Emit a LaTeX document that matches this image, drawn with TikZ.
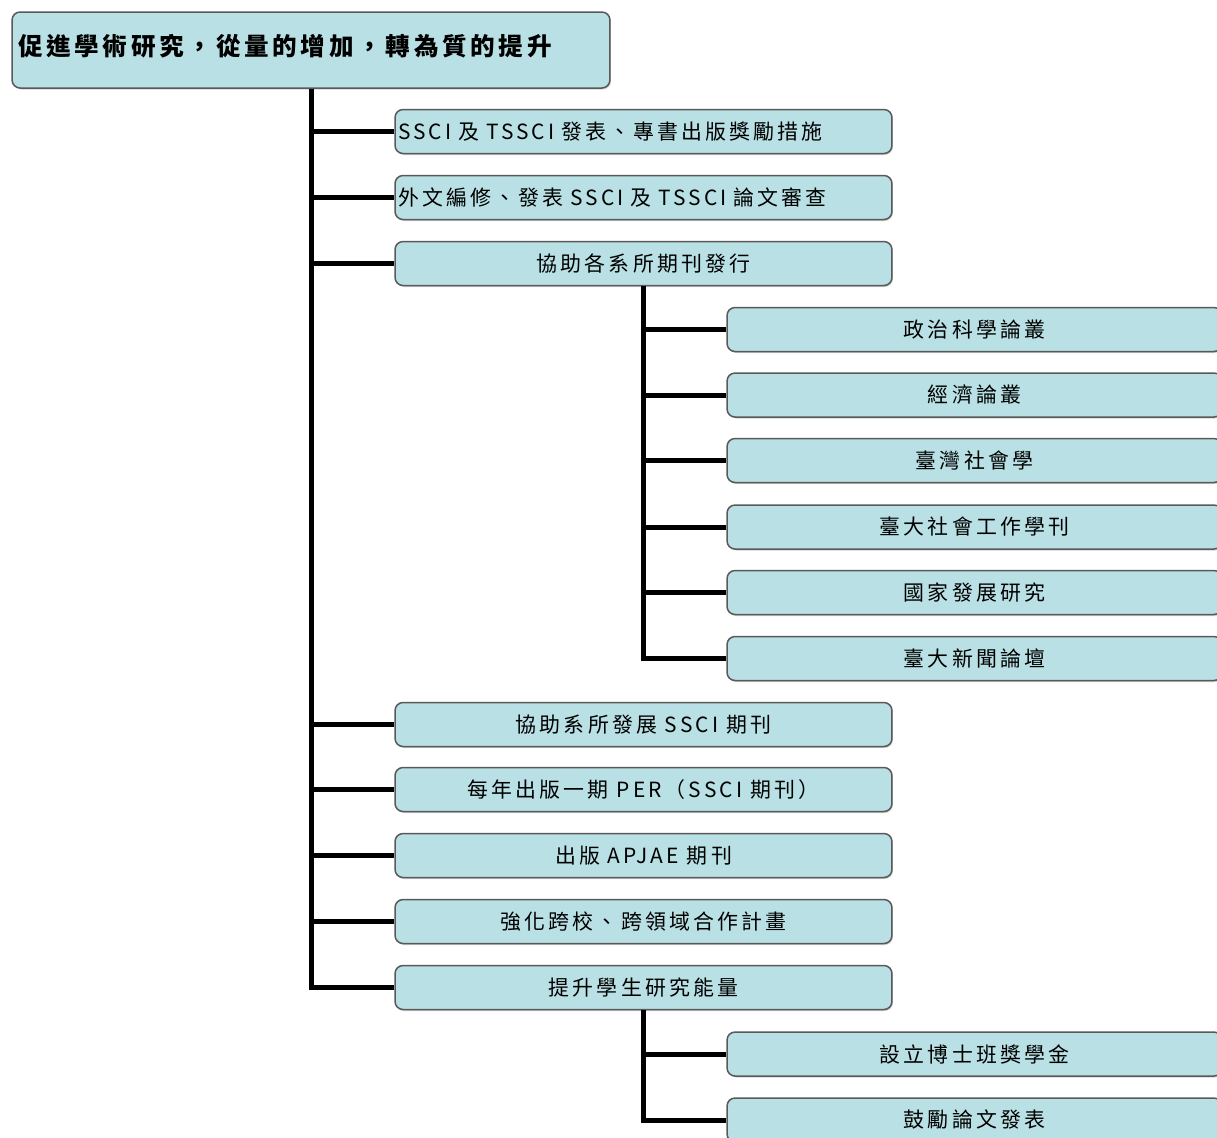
\documentclass[tikz,border=0pt]{standalone}
\usepackage{fontspec}
\setmainfont{Noto Sans CJK TC}[LetterSpace=15]
\usetikzlibrary{shadows}
\definecolor{r185g224b228}{RGB}{185,224,228}
\tikzset{
  box/.style={draw=black!65, line width=0.03cm, fill=r185g224b228, rounded corners=0.16cm,
    drop shadow={shadow xshift=0.02cm, shadow yshift=-0.03cm, fill=black!35},
    inner sep=0pt, font=\fontsize{11.9}{13}\selectfont},
  rootbox/.style={box, minimum width=11.96cm, minimum height=1.52cm, inner xsep=0.12cm,
    text width=11.72cm, align=left, text height=0.43cm, text depth=0.22cm,
    font=\fontsize{14}{16}\selectfont\bfseries},
  itembox/.style={box, minimum width=9.94cm, minimum height=0.88cm},
  leftbox/.style={itembox, inner xsep=0.06cm, text width=9.82cm, align=left},
  subbox/.style={box, minimum width=9.9cm, minimum height=0.88cm},
  link/.style={line width=0.1cm, black}
}
\begin{document}
\begin{tikzpicture}[x=0.02cm, y=-0.02cm]
\useasboundingbox (0,0) rectangle (1217,1137);
\clip (0,0) rectangle (1217,1137);

% Drawing top box
\node [rootbox] (root) at (311,50) {促進學術研究，從量的增加，轉為質的提升};

% Drawing first level
\node [leftbox] (award) at (643.5,131.5) {SSCI 及 TSSCI 發表、專書出版獎勵措施};
\node [leftbox] (review) at (643.5,197.5) {外文編修、發表 SSCI 及 TSSCI 論文審查};
\node [itembox] (journals) at (643.5,263.5) {協助各系所期刊發行};
\node [itembox] (devssci) at (643.5,724.5) {協助系所發展 SSCI 期刊};
\node [itembox] (per) at (643.5,789.5) {每年出版一期 PER（SSCI 期刊）};
\node [itembox] (apjae) at (643.5,855.5) {出版 APJAE 期刊};
\node [itembox] (cross) at (643.5,921.5) {強化跨校、跨領域合作計畫};
\node [itembox] (student) at (643.5,987.5) {提升學生研究能量};

% Drawing journals
\node [subbox] (polsci) at (974.5,329.5) {政治科學論叢};
\node [subbox] (econ) at (974.5,395) {經濟論叢};
\node [subbox] (tjs) at (974.5,460.5) {臺灣社會學};
\node [subbox] (ntusw) at (974.5,527) {臺大社會工作學刊};
\node [subbox] (ndr) at (974.5,592.5) {國家發展研究};
\node [subbox] (ntujc) at (974.5,658.5) {臺大新聞論壇};

% Drawing student support
\node [subbox] (phd) at (974.5,1054) {設立博士班獎學金};
\node [subbox] (paper) at (974.5,1120) {鼓勵論文發表};

% Drawing links from top box
\draw [link] (root.south) |- (award.west);
\draw [link] (root.south) |- (review.west);
\draw [link] (root.south) |- (journals.west);
\draw [link] (root.south) |- (devssci.west);
\draw [link] (root.south) |- (per.west);
\draw [link] (root.south) |- (apjae.west);
\draw [link] (root.south) |- (cross.west);
\draw [link] (root.south) |- (student.west);

% Drawing links from journals
\draw [link] (journals.south) |- (polsci.west);
\draw [link] (journals.south) |- (econ.west);
\draw [link] (journals.south) |- (tjs.west);
\draw [link] (journals.south) |- (ntusw.west);
\draw [link] (journals.south) |- (ndr.west);
\draw [link] (journals.south) |- (ntujc.west);

% Drawing links from student
\draw [link] (student.south) |- (phd.west);
\draw [link] (student.south) |- (paper.west);
\end{tikzpicture}
\end{document}
